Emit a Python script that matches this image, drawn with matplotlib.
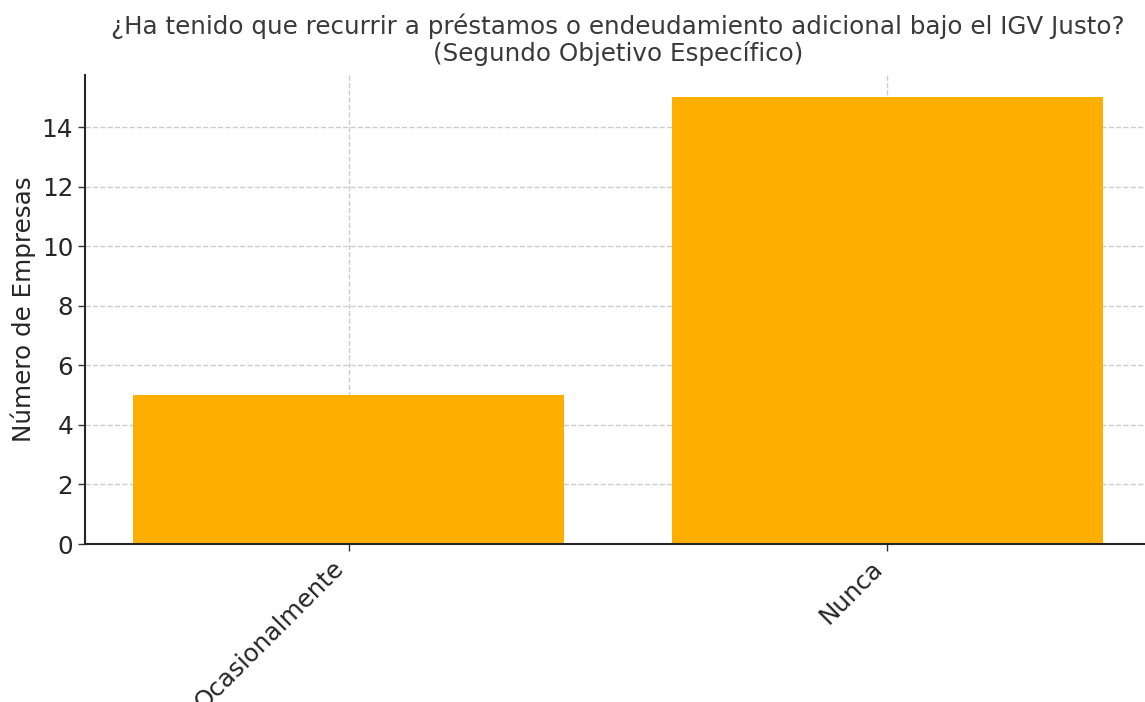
import numpy as np
import matplotlib.pyplot as plt

# datos del gráfico
categorias = ["Ocasionalmente", "Nunca"]
empresas = [5, 15]

fig = plt.figure(figsize=(11.45, 7.02), dpi=100)
ax = fig.add_axes([85 / 1145, (702 - 544) / 702, (1151 - 85) / 1145, (544 - 75) / 702])

x = np.arange(len(categorias))
ax.bar(x, empresas, width=0.8, color="#FFAF00", zorder=2)

ax.set_xticks(x)
ax.set_xticklabels(categorias, rotation=45, ha="right",
                   fontsize=17.7, color="#262626")
ax.tick_params(axis="y", labelsize=17.7, labelcolor="#262626")
ax.tick_params(axis="both", direction="out", length=5, width=1, color="#333333")
ax.set_ylabel("Número de Empresas", fontsize=17.7, color="#262626")
ax.set_title("¿Ha tenido que recurrir a préstamos o endeudamiento adicional bajo el IGV Justo?\n"
             "(Segundo Objetivo Específico)", fontsize=17.7, color="#3a3a3a", pad=10,
             linespacing=1.1)

ax.grid(True, linestyle="--", color="#cccccc", linewidth=1, zorder=0)
ax.set_axisbelow(True)
for s in ["top", "right"]:
    ax.spines[s].set_visible(False)
for s in ["left", "bottom"]:
    ax.spines[s].set_color("#262626")
    ax.spines[s].set_linewidth(1.5)

ax.set_xlim(-0.49, 1.49)
ax.set_ylim(0, 15.75)
ax.set_yticks(range(0, 15, 2))

fig.savefig("out.png", dpi=100)
